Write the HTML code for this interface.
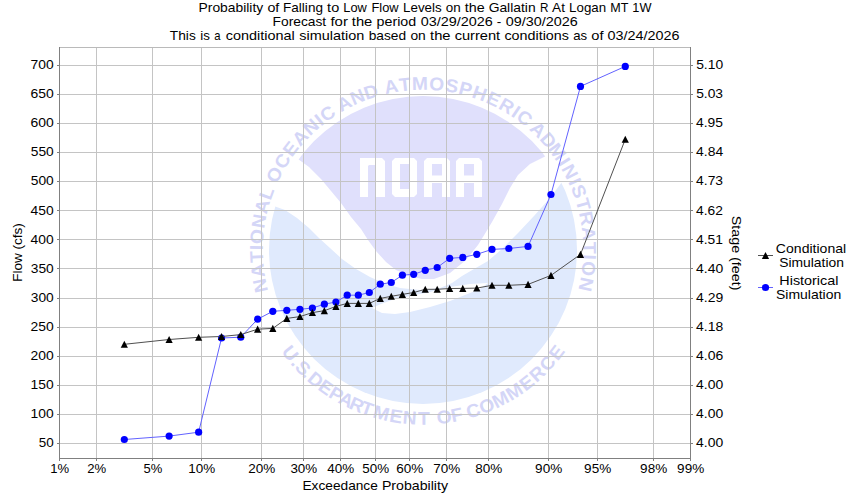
<!DOCTYPE html>
<html><head><meta charset="utf-8"><title>Low Flow Probability</title>
<style>
html,body{margin:0;padding:0;background:#fff;width:850px;height:500px;overflow:hidden}
svg{display:block}
text{font-family:"Liberation Sans",sans-serif}
</style></head><body>
<svg width="850" height="500" viewBox="0 0 850 500">
<rect width="850" height="500" fill="#fff"/>
<defs>
<clipPath id="cc"><circle cx="423" cy="250" r="154"/></clipPath>
</defs>
<g>
<circle cx="423" cy="250" r="154" fill="#e0eafd"/>
<path d="M262,80 L262,205 L271,205 L285,210 L297,218 L309,228 L319,238 L330,248 L342,259 L356,269 L370,277 L386,284 L400,288 L420,290 L440,288 L452,283 L462,276 L474,269 L488,261 L502,249 L510,241 L518,233 L534,216 L550,198 L562,182 L590,170 L590,80 Z" fill="#fff"/>
<path d="M372,308 L381,304 L392,300 L410,296 L430,292 L450,287 L470,284 L488,283 L480,289 L465,295 L450,301 L430,307 L410,312 L395,314 L382,313 Z" fill="#fff"/>
<g clip-path="url(#cc)">
<path d="M290,80 L290,150 L298,159 L309,167 L321,179 L331,191 L341,203 L351,217 L361,229 L368,240 L376,251 L386,262 L396,270 L410,276 L422,279 L434,279 L450,273 L466,260 L478,245 L486,232 L492,222 L502,204 L510,188 L518,175 L530,164 L546,156 L556,148 L556,80 Z" fill="#e0e0fc"/>
</g>
<g fill="#fff">
<path d="M360,158 H382 L385,161 V197 H376 V166 L375,165 H369 L368,166 V197 H360 Z"/>
<path d="M395,158 H414 L417,161 V194 L414,197 H395 L392,194 V161 Z M400,164 V189 H409 V164 Z" fill-rule="evenodd"/>
<path d="M427,158 H447 L450,161 V197 H442 V183 H432 V197 H424 V161 Z M432,164 V175.5 H442 V164 Z" fill-rule="evenodd"/>
<path d="M459,158 H479 L482,161 V197 H474 V183 H464 V197 H456 V161 Z M464,164 V175.5 H474 V164 Z" fill-rule="evenodd"/>
</g>
<g font-family="Liberation Sans">
<text transform="translate(266.48,284.13) rotate(-102.30) scale(1.04,1)" text-anchor="middle" font-weight="bold" font-size="18.5" fill="#d4d6f7">N</text>
<text transform="translate(264.04,269.87) rotate(-97.13) scale(1.04,1)" text-anchor="middle" font-weight="bold" font-size="18.5" fill="#d4d6f7">A</text>
<text transform="translate(262.93,256.57) rotate(-92.35) scale(1.04,1)" text-anchor="middle" font-weight="bold" font-size="18.5" fill="#d4d6f7">T</text>
<text transform="translate(262.82,247.67) rotate(-89.17) scale(1.04,1)" text-anchor="middle" font-weight="bold" font-size="18.5" fill="#d4d6f7">I</text>
<text transform="translate(263.32,237.11) rotate(-85.39) scale(1.04,1)" text-anchor="middle" font-weight="bold" font-size="18.5" fill="#d4d6f7">O</text>
<text transform="translate(265.23,222.22) rotate(-80.01) scale(1.04,1)" text-anchor="middle" font-weight="bold" font-size="18.5" fill="#d4d6f7">N</text>
<text transform="translate(268.38,208.10) rotate(-74.84) scale(1.04,1)" text-anchor="middle" font-weight="bold" font-size="18.5" fill="#d4d6f7">A</text>
<text transform="translate(272.40,195.38) rotate(-70.06) scale(1.04,1)" text-anchor="middle" font-weight="bold" font-size="18.5" fill="#d4d6f7">L</text>
<text transform="translate(280.13,177.52) rotate(-63.10) scale(1.04,1)" text-anchor="middle" font-weight="bold" font-size="18.5" fill="#d4d6f7">O</text>
<text transform="translate(287.68,164.26) rotate(-57.64) scale(1.04,1)" text-anchor="middle" font-weight="bold" font-size="18.5" fill="#d4d6f7">C</text>
<text transform="translate(295.76,152.67) rotate(-52.59) scale(1.04,1)" text-anchor="middle" font-weight="bold" font-size="18.5" fill="#d4d6f7">E</text>
<text transform="translate(304.83,141.84) rotate(-47.53) scale(1.04,1)" text-anchor="middle" font-weight="bold" font-size="18.5" fill="#d4d6f7">A</text>
<text transform="translate(315.23,131.47) rotate(-42.28) scale(1.04,1)" text-anchor="middle" font-weight="bold" font-size="18.5" fill="#d4d6f7">N</text>
<text transform="translate(322.97,124.87) rotate(-38.64) scale(1.04,1)" text-anchor="middle" font-weight="bold" font-size="18.5" fill="#d4d6f7">I</text>
<text transform="translate(331.11,118.77) rotate(-35.00) scale(1.04,1)" text-anchor="middle" font-weight="bold" font-size="18.5" fill="#d4d6f7">C</text>
<text transform="translate(347.05,108.95) rotate(-28.30) scale(1.04,1)" text-anchor="middle" font-weight="bold" font-size="18.5" fill="#d4d6f7">A</text>
<text transform="translate(359.76,102.81) rotate(-23.25) scale(1.04,1)" text-anchor="middle" font-weight="bold" font-size="18.5" fill="#d4d6f7">N</text>
<text transform="translate(372.96,97.81) rotate(-18.20) scale(1.04,1)" text-anchor="middle" font-weight="bold" font-size="18.5" fill="#d4d6f7">D</text>
<text transform="translate(392.37,92.76) rotate(-11.02) scale(1.04,1)" text-anchor="middle" font-weight="bold" font-size="18.5" fill="#d4d6f7">A</text>
<text transform="translate(405.59,90.75) rotate(-6.24) scale(1.04,1)" text-anchor="middle" font-weight="bold" font-size="18.5" fill="#d4d6f7">T</text>
<text transform="translate(420.04,89.83) rotate(-1.06) scale(1.04,1)" text-anchor="middle" font-weight="bold" font-size="18.5" fill="#d4d6f7">M</text>
<text transform="translate(436.29,90.35) rotate(4.76) scale(1.04,1)" text-anchor="middle" font-weight="bold" font-size="18.5" fill="#d4d6f7">O</text>
<text transform="translate(450.76,92.22) rotate(9.98) scale(1.04,1)" text-anchor="middle" font-weight="bold" font-size="18.5" fill="#d4d6f7">S</text>
<text transform="translate(463.92,95.11) rotate(14.80) scale(1.04,1)" text-anchor="middle" font-weight="bold" font-size="18.5" fill="#d4d6f7">P</text>
<text transform="translate(477.62,99.40) rotate(19.94) scale(1.04,1)" text-anchor="middle" font-weight="bold" font-size="18.5" fill="#d4d6f7">H</text>
<text transform="translate(490.88,104.89) rotate(25.07) scale(1.04,1)" text-anchor="middle" font-weight="bold" font-size="18.5" fill="#d4d6f7">E</text>
<text transform="translate(503.60,111.55) rotate(30.21) scale(1.04,1)" text-anchor="middle" font-weight="bold" font-size="18.5" fill="#d4d6f7">R</text>
<text transform="translate(512.36,117.04) rotate(33.90) scale(1.04,1)" text-anchor="middle" font-weight="bold" font-size="18.5" fill="#d4d6f7">I</text>
<text transform="translate(520.75,123.08) rotate(37.60) scale(1.04,1)" text-anchor="middle" font-weight="bold" font-size="18.5" fill="#d4d6f7">C</text>
<text transform="translate(533.68,134.18) rotate(43.70) scale(1.04,1)" text-anchor="middle" font-weight="bold" font-size="18.5" fill="#d4d6f7">A</text>
<text transform="translate(543.54,144.48) rotate(48.80) scale(1.04,1)" text-anchor="middle" font-weight="bold" font-size="18.5" fill="#d4d6f7">D</text>
<text transform="translate(552.28,155.38) rotate(53.80) scale(1.04,1)" text-anchor="middle" font-weight="bold" font-size="18.5" fill="#d4d6f7">M</text>
<text transform="translate(558.97,165.28) rotate(58.07) scale(1.04,1)" text-anchor="middle" font-weight="bold" font-size="18.5" fill="#d4d6f7">I</text>
<text transform="translate(564.34,174.59) rotate(61.92) scale(1.04,1)" text-anchor="middle" font-weight="bold" font-size="18.5" fill="#d4d6f7">N</text>
<text transform="translate(569.08,184.24) rotate(65.77) scale(1.04,1)" text-anchor="middle" font-weight="bold" font-size="18.5" fill="#d4d6f7">I</text>
<text transform="translate(572.96,193.63) rotate(69.40) scale(1.04,1)" text-anchor="middle" font-weight="bold" font-size="18.5" fill="#d4d6f7">S</text>
<text transform="translate(577.07,206.12) rotate(74.10) scale(1.04,1)" text-anchor="middle" font-weight="bold" font-size="18.5" fill="#d4d6f7">T</text>
<text transform="translate(580.26,219.45) rotate(79.01) scale(1.04,1)" text-anchor="middle" font-weight="bold" font-size="18.5" fill="#d4d6f7">R</text>
<text transform="translate(582.41,234.15) rotate(84.32) scale(1.04,1)" text-anchor="middle" font-weight="bold" font-size="18.5" fill="#d4d6f7">A</text>
<text transform="translate(583.19,247.84) rotate(89.23) scale(1.04,1)" text-anchor="middle" font-weight="bold" font-size="18.5" fill="#d4d6f7">T</text>
<text transform="translate(583.05,256.98) rotate(92.50) scale(1.04,1)" text-anchor="middle" font-weight="bold" font-size="18.5" fill="#d4d6f7">I</text>
<text transform="translate(582.21,267.80) rotate(96.38) scale(1.04,1)" text-anchor="middle" font-weight="bold" font-size="18.5" fill="#d4d6f7">O</text>
<text transform="translate(579.76,283.03) rotate(101.90) scale(1.04,1)" text-anchor="middle" font-weight="bold" font-size="18.5" fill="#d4d6f7">N</text>
<text transform="translate(285.15,357.32) rotate(52.10) scale(1.04,1)" text-anchor="middle" font-weight="bold" font-size="18.5" fill="#d4d6f7">U</text>
<text transform="translate(291.84,365.41) rotate(48.65) scale(1.04,1)" text-anchor="middle" font-weight="bold" font-size="18.5" fill="#d4d6f7">.</text>
<text transform="translate(298.61,372.67) rotate(45.40) scale(1.04,1)" text-anchor="middle" font-weight="bold" font-size="18.5" fill="#d4d6f7">S</text>
<text transform="translate(303.39,377.33) rotate(43.21) scale(1.04,1)" text-anchor="middle" font-weight="bold" font-size="18.5" fill="#d4d6f7">.</text>
<text transform="translate(311.64,384.61) rotate(39.60) scale(1.04,1)" text-anchor="middle" font-weight="bold" font-size="18.5" fill="#d4d6f7">D</text>
<text transform="translate(322.27,392.73) rotate(35.21) scale(1.04,1)" text-anchor="middle" font-weight="bold" font-size="18.5" fill="#d4d6f7">E</text>
<text transform="translate(333.02,399.75) rotate(31.00) scale(1.04,1)" text-anchor="middle" font-weight="bold" font-size="18.5" fill="#d4d6f7">P</text>
<text transform="translate(343.33,405.48) rotate(27.13) scale(1.04,1)" text-anchor="middle" font-weight="bold" font-size="18.5" fill="#d4d6f7">A</text>
<text transform="translate(354.43,410.68) rotate(23.11) scale(1.04,1)" text-anchor="middle" font-weight="bold" font-size="18.5" fill="#d4d6f7">R</text>
<text transform="translate(364.97,414.78) rotate(19.40) scale(1.04,1)" text-anchor="middle" font-weight="bold" font-size="18.5" fill="#d4d6f7">T</text>
<text transform="translate(379.85,419.29) rotate(14.30) scale(1.04,1)" text-anchor="middle" font-weight="bold" font-size="18.5" fill="#d4d6f7">M</text>
<text transform="translate(395.03,422.45) rotate(9.21) scale(1.04,1)" text-anchor="middle" font-weight="bold" font-size="18.5" fill="#d4d6f7">E</text>
<text transform="translate(409.29,424.16) rotate(4.50) scale(1.04,1)" text-anchor="middle" font-weight="bold" font-size="18.5" fill="#d4d6f7">N</text>
<text transform="translate(423.91,424.70) rotate(-0.30) scale(1.04,1)" text-anchor="middle" font-weight="bold" font-size="18.5" fill="#d4d6f7">T</text>
<text transform="translate(444.90,423.32) rotate(-7.20) scale(1.04,1)" text-anchor="middle" font-weight="bold" font-size="18.5" fill="#d4d6f7">O</text>
<text transform="translate(457.90,421.18) rotate(-11.52) scale(1.04,1)" text-anchor="middle" font-weight="bold" font-size="18.5" fill="#d4d6f7">F</text>
<text transform="translate(475.24,416.71) rotate(-17.40) scale(1.04,1)" text-anchor="middle" font-weight="bold" font-size="18.5" fill="#d4d6f7">C</text>
<text transform="translate(489.11,411.71) rotate(-22.24) scale(1.04,1)" text-anchor="middle" font-weight="bold" font-size="18.5" fill="#d4d6f7">O</text>
<text transform="translate(503.48,405.06) rotate(-27.43) scale(1.04,1)" text-anchor="middle" font-weight="bold" font-size="18.5" fill="#d4d6f7">M</text>
<text transform="translate(517.64,396.85) rotate(-32.80) scale(1.04,1)" text-anchor="middle" font-weight="bold" font-size="18.5" fill="#d4d6f7">M</text>
<text transform="translate(530.47,387.73) rotate(-37.96) scale(1.04,1)" text-anchor="middle" font-weight="bold" font-size="18.5" fill="#d4d6f7">E</text>
<text transform="translate(541.58,378.29) rotate(-42.75) scale(1.04,1)" text-anchor="middle" font-weight="bold" font-size="18.5" fill="#d4d6f7">R</text>
<text transform="translate(552.25,367.53) rotate(-47.72) scale(1.04,1)" text-anchor="middle" font-weight="bold" font-size="18.5" fill="#d4d6f7">C</text>
<text transform="translate(561.60,356.35) rotate(-52.50) scale(1.04,1)" text-anchor="middle" font-weight="bold" font-size="18.5" fill="#d4d6f7">E</text>
</g>
</g>
</g>
<g shape-rendering="crispEdges" stroke-width="1" fill="none">
<line x1="96.5" y1="47" x2="96.5" y2="458" stroke="#c4c4c4"/>
<line x1="152.5" y1="47" x2="152.5" y2="458" stroke="#c4c4c4"/>
<line x1="201.5" y1="47" x2="201.5" y2="458" stroke="#c4c4c4"/>
<line x1="261.5" y1="47" x2="261.5" y2="458" stroke="#c4c4c4"/>
<line x1="303.5" y1="47" x2="303.5" y2="458" stroke="#c4c4c4"/>
<line x1="340.5" y1="47" x2="340.5" y2="458" stroke="#c4c4c4"/>
<line x1="375.5" y1="47" x2="375.5" y2="458" stroke="#c4c4c4"/>
<line x1="409.5" y1="47" x2="409.5" y2="458" stroke="#c4c4c4"/>
<line x1="446.5" y1="47" x2="446.5" y2="458" stroke="#c4c4c4"/>
<line x1="488.5" y1="47" x2="488.5" y2="458" stroke="#c4c4c4"/>
<line x1="548.5" y1="47" x2="548.5" y2="458" stroke="#c4c4c4"/>
<line x1="597.5" y1="47" x2="597.5" y2="458" stroke="#c4c4c4"/>
<line x1="653.5" y1="47" x2="653.5" y2="458" stroke="#c4c4c4"/>
<line x1="59" y1="65.5" x2="690" y2="65.5" stroke="#c4c4c4"/>
<line x1="59" y1="94.5" x2="690" y2="94.5" stroke="#c4c4c4"/>
<line x1="59" y1="123.5" x2="690" y2="123.5" stroke="#c4c4c4"/>
<line x1="59" y1="152.5" x2="690" y2="152.5" stroke="#c4c4c4"/>
<line x1="59" y1="181.5" x2="690" y2="181.5" stroke="#c4c4c4"/>
<line x1="59" y1="210.5" x2="690" y2="210.5" stroke="#c4c4c4"/>
<line x1="59" y1="239.5" x2="690" y2="239.5" stroke="#c4c4c4"/>
<line x1="59" y1="268.5" x2="690" y2="268.5" stroke="#c4c4c4"/>
<line x1="59" y1="298.5" x2="690" y2="298.5" stroke="#c4c4c4"/>
<line x1="59" y1="327.5" x2="690" y2="327.5" stroke="#c4c4c4"/>
<line x1="59" y1="356.5" x2="690" y2="356.5" stroke="#c4c4c4"/>
<line x1="59" y1="385.5" x2="690" y2="385.5" stroke="#c4c4c4"/>
<line x1="59" y1="414.5" x2="690" y2="414.5" stroke="#c4c4c4"/>
<line x1="59" y1="443.5" x2="690" y2="443.5" stroke="#c4c4c4"/>
<line x1="59" y1="47.5" x2="691" y2="47.5" stroke="#bababa"/>
<line x1="59.5" y1="47" x2="59.5" y2="459" stroke="#808080"/>
<line x1="690.5" y1="47" x2="690.5" y2="459" stroke="#808080"/>
<line x1="59" y1="458.5" x2="691" y2="458.5" stroke="#808080"/>
<line x1="57" y1="65.5" x2="59" y2="65.5" stroke="#808080"/>
<line x1="691" y1="65.5" x2="693" y2="65.5" stroke="#808080"/>
<line x1="57" y1="94.5" x2="59" y2="94.5" stroke="#808080"/>
<line x1="691" y1="94.5" x2="693" y2="94.5" stroke="#808080"/>
<line x1="57" y1="123.5" x2="59" y2="123.5" stroke="#808080"/>
<line x1="691" y1="123.5" x2="693" y2="123.5" stroke="#808080"/>
<line x1="57" y1="152.5" x2="59" y2="152.5" stroke="#808080"/>
<line x1="691" y1="152.5" x2="693" y2="152.5" stroke="#808080"/>
<line x1="57" y1="181.5" x2="59" y2="181.5" stroke="#808080"/>
<line x1="691" y1="181.5" x2="693" y2="181.5" stroke="#808080"/>
<line x1="57" y1="210.5" x2="59" y2="210.5" stroke="#808080"/>
<line x1="691" y1="210.5" x2="693" y2="210.5" stroke="#808080"/>
<line x1="57" y1="239.5" x2="59" y2="239.5" stroke="#808080"/>
<line x1="691" y1="239.5" x2="693" y2="239.5" stroke="#808080"/>
<line x1="57" y1="268.5" x2="59" y2="268.5" stroke="#808080"/>
<line x1="691" y1="268.5" x2="693" y2="268.5" stroke="#808080"/>
<line x1="57" y1="298.5" x2="59" y2="298.5" stroke="#808080"/>
<line x1="691" y1="298.5" x2="693" y2="298.5" stroke="#808080"/>
<line x1="57" y1="327.5" x2="59" y2="327.5" stroke="#808080"/>
<line x1="691" y1="327.5" x2="693" y2="327.5" stroke="#808080"/>
<line x1="57" y1="356.5" x2="59" y2="356.5" stroke="#808080"/>
<line x1="691" y1="356.5" x2="693" y2="356.5" stroke="#808080"/>
<line x1="57" y1="385.5" x2="59" y2="385.5" stroke="#808080"/>
<line x1="691" y1="385.5" x2="693" y2="385.5" stroke="#808080"/>
<line x1="57" y1="414.5" x2="59" y2="414.5" stroke="#808080"/>
<line x1="691" y1="414.5" x2="693" y2="414.5" stroke="#808080"/>
<line x1="57" y1="443.5" x2="59" y2="443.5" stroke="#808080"/>
<line x1="691" y1="443.5" x2="693" y2="443.5" stroke="#808080"/>
<line x1="59.5" y1="459" x2="59.5" y2="461" stroke="#808080"/>
<line x1="96.5" y1="459" x2="96.5" y2="461" stroke="#808080"/>
<line x1="152.5" y1="459" x2="152.5" y2="461" stroke="#808080"/>
<line x1="201.5" y1="459" x2="201.5" y2="461" stroke="#808080"/>
<line x1="261.5" y1="459" x2="261.5" y2="461" stroke="#808080"/>
<line x1="303.5" y1="459" x2="303.5" y2="461" stroke="#808080"/>
<line x1="340.5" y1="459" x2="340.5" y2="461" stroke="#808080"/>
<line x1="375.5" y1="459" x2="375.5" y2="461" stroke="#808080"/>
<line x1="409.5" y1="459" x2="409.5" y2="461" stroke="#808080"/>
<line x1="446.5" y1="459" x2="446.5" y2="461" stroke="#808080"/>
<line x1="488.5" y1="459" x2="488.5" y2="461" stroke="#808080"/>
<line x1="548.5" y1="459" x2="548.5" y2="461" stroke="#808080"/>
<line x1="597.5" y1="459" x2="597.5" y2="461" stroke="#808080"/>
<line x1="653.5" y1="459" x2="653.5" y2="461" stroke="#808080"/>
<line x1="690.5" y1="459" x2="690.5" y2="461" stroke="#808080"/>
</g>
<polyline fill="none" stroke="#6262ff" stroke-width="1" points="124.32,439.5 169.12,436.1 198.63,432.2 221.55,338 240.77,337.2 257.61,319.2 272.81,311.3 286.82,310.3 299.94,309.3 312.40,308 324.35,304.2 335.93,302 347.22,295.2 358.32,295.2 369.32,292.5 380.28,284.2 391.28,282.5 402.38,275.2 413.67,274.3 425.25,270.3 437.20,267.5 449.66,258.3 462.78,257.4 476.79,254.3 491.99,249.4 508.83,248.5 528.05,246.4 550.97,194.5 580.48,86.4 625.28,66.4"/>
<circle cx="124.32" cy="439.5" r="3.6" fill="#0000ff"/>
<circle cx="169.12" cy="436.1" r="3.6" fill="#0000ff"/>
<circle cx="198.63" cy="432.2" r="3.6" fill="#0000ff"/>
<circle cx="221.55" cy="338" r="3.6" fill="#0000ff"/>
<circle cx="240.77" cy="337.2" r="3.6" fill="#0000ff"/>
<circle cx="257.61" cy="319.2" r="3.6" fill="#0000ff"/>
<circle cx="272.81" cy="311.3" r="3.6" fill="#0000ff"/>
<circle cx="286.82" cy="310.3" r="3.6" fill="#0000ff"/>
<circle cx="299.94" cy="309.3" r="3.6" fill="#0000ff"/>
<circle cx="312.40" cy="308" r="3.6" fill="#0000ff"/>
<circle cx="324.35" cy="304.2" r="3.6" fill="#0000ff"/>
<circle cx="335.93" cy="302" r="3.6" fill="#0000ff"/>
<circle cx="347.22" cy="295.2" r="3.6" fill="#0000ff"/>
<circle cx="358.32" cy="295.2" r="3.6" fill="#0000ff"/>
<circle cx="369.32" cy="292.5" r="3.6" fill="#0000ff"/>
<circle cx="380.28" cy="284.2" r="3.6" fill="#0000ff"/>
<circle cx="391.28" cy="282.5" r="3.6" fill="#0000ff"/>
<circle cx="402.38" cy="275.2" r="3.6" fill="#0000ff"/>
<circle cx="413.67" cy="274.3" r="3.6" fill="#0000ff"/>
<circle cx="425.25" cy="270.3" r="3.6" fill="#0000ff"/>
<circle cx="437.20" cy="267.5" r="3.6" fill="#0000ff"/>
<circle cx="449.66" cy="258.3" r="3.6" fill="#0000ff"/>
<circle cx="462.78" cy="257.4" r="3.6" fill="#0000ff"/>
<circle cx="476.79" cy="254.3" r="3.6" fill="#0000ff"/>
<circle cx="491.99" cy="249.4" r="3.6" fill="#0000ff"/>
<circle cx="508.83" cy="248.5" r="3.6" fill="#0000ff"/>
<circle cx="528.05" cy="246.4" r="3.6" fill="#0000ff"/>
<circle cx="550.97" cy="194.5" r="3.6" fill="#0000ff"/>
<circle cx="580.48" cy="86.4" r="3.6" fill="#0000ff"/>
<circle cx="625.28" cy="66.4" r="3.6" fill="#0000ff"/>
<polyline fill="none" stroke="#505050" stroke-width="1" points="124.32,344.3 169.12,339.5 198.63,337.3 221.55,336.5 240.77,334.6 257.61,329.2 272.81,328.4 286.82,318.4 299.94,316.6 312.40,312.6 324.35,310.7 335.93,306.4 347.22,303.4 358.32,303.4 369.32,303.4 380.28,298.4 391.28,296.3 402.38,294.4 413.67,292.5 425.25,289.3 437.20,289.3 449.66,288.5 462.78,288.4 476.79,288.1 491.99,285.3 508.83,285.3 528.05,284.4 550.97,275.4 580.48,254.4 625.28,139.3"/>
<path d="M124.32,340.70 L127.92,347.80 L120.72,347.80 Z" fill="#000"/>
<path d="M169.12,335.90 L172.72,343.00 L165.52,343.00 Z" fill="#000"/>
<path d="M198.63,333.70 L202.23,340.80 L195.03,340.80 Z" fill="#000"/>
<path d="M221.55,332.90 L225.15,340.00 L217.95,340.00 Z" fill="#000"/>
<path d="M240.77,331.00 L244.37,338.10 L237.17,338.10 Z" fill="#000"/>
<path d="M257.61,325.60 L261.21,332.70 L254.01,332.70 Z" fill="#000"/>
<path d="M272.81,324.80 L276.41,331.90 L269.21,331.90 Z" fill="#000"/>
<path d="M286.82,314.80 L290.42,321.90 L283.22,321.90 Z" fill="#000"/>
<path d="M299.94,313.00 L303.54,320.10 L296.34,320.10 Z" fill="#000"/>
<path d="M312.40,309.00 L316.00,316.10 L308.80,316.10 Z" fill="#000"/>
<path d="M324.35,307.10 L327.95,314.20 L320.75,314.20 Z" fill="#000"/>
<path d="M335.93,302.80 L339.53,309.90 L332.33,309.90 Z" fill="#000"/>
<path d="M347.22,299.80 L350.82,306.90 L343.62,306.90 Z" fill="#000"/>
<path d="M358.32,299.80 L361.92,306.90 L354.72,306.90 Z" fill="#000"/>
<path d="M369.32,299.80 L372.92,306.90 L365.72,306.90 Z" fill="#000"/>
<path d="M380.28,294.80 L383.88,301.90 L376.68,301.90 Z" fill="#000"/>
<path d="M391.28,292.70 L394.88,299.80 L387.68,299.80 Z" fill="#000"/>
<path d="M402.38,290.80 L405.98,297.90 L398.78,297.90 Z" fill="#000"/>
<path d="M413.67,288.90 L417.27,296.00 L410.07,296.00 Z" fill="#000"/>
<path d="M425.25,285.70 L428.85,292.80 L421.65,292.80 Z" fill="#000"/>
<path d="M437.20,285.70 L440.80,292.80 L433.60,292.80 Z" fill="#000"/>
<path d="M449.66,284.90 L453.26,292.00 L446.06,292.00 Z" fill="#000"/>
<path d="M462.78,284.80 L466.38,291.90 L459.18,291.90 Z" fill="#000"/>
<path d="M476.79,284.50 L480.39,291.60 L473.19,291.60 Z" fill="#000"/>
<path d="M491.99,281.70 L495.59,288.80 L488.39,288.80 Z" fill="#000"/>
<path d="M508.83,281.70 L512.43,288.80 L505.23,288.80 Z" fill="#000"/>
<path d="M528.05,280.80 L531.65,287.90 L524.45,287.90 Z" fill="#000"/>
<path d="M550.97,271.80 L554.57,278.90 L547.37,278.90 Z" fill="#000"/>
<path d="M580.48,250.80 L584.08,257.90 L576.88,257.90 Z" fill="#000"/>
<path d="M625.28,135.70 L628.88,142.80 L621.68,142.80 Z" fill="#000"/>
<line x1="758" y1="255.5" x2="773" y2="255.5" stroke="#505050" stroke-width="1"/>
<path d="M765.5,251.90 L769.1,259.0 L761.9,259.0 Z" fill="#000"/>
<line x1="758" y1="287.5" x2="773" y2="287.5" stroke="#6262ff" stroke-width="1"/>
<circle cx="765.5" cy="287.5" r="3.6" fill="#0000ff"/>
<g font-family="Liberation Sans">
<text x="198.57" y="12.00" font-size="12.7" textLength="64.59" lengthAdjust="spacingAndGlyphs" fill="#000">Probability</text>
<text x="267.44" y="12.00" font-size="12.7" textLength="11.90" lengthAdjust="spacingAndGlyphs" fill="#000">of</text>
<text x="283.10" y="12.00" font-size="12.7" textLength="39.82" lengthAdjust="spacingAndGlyphs" fill="#000">Falling</text>
<text x="327.14" y="12.00" font-size="12.7" textLength="12.08" lengthAdjust="spacingAndGlyphs" fill="#000">to</text>
<text x="343.31" y="12.00" font-size="12.7" textLength="23.56" lengthAdjust="spacingAndGlyphs" fill="#000">Low</text>
<text x="371.43" y="12.00" font-size="12.7" textLength="27.17" lengthAdjust="spacingAndGlyphs" fill="#000">Flow</text>
<text x="403.12" y="12.00" font-size="12.7" textLength="38.57" lengthAdjust="spacingAndGlyphs" fill="#000">Levels</text>
<text x="445.79" y="12.00" font-size="12.7" textLength="14.92" lengthAdjust="spacingAndGlyphs" fill="#000">on</text>
<text x="464.87" y="12.00" font-size="12.7" textLength="19.90" lengthAdjust="spacingAndGlyphs" fill="#000">the</text>
<text x="488.65" y="12.00" font-size="12.7" textLength="46.97" lengthAdjust="spacingAndGlyphs" fill="#000">Gallatin</text>
<text x="539.88" y="12.00" font-size="12.7" textLength="8.43" lengthAdjust="spacingAndGlyphs" fill="#000">R</text>
<text x="552.07" y="12.00" font-size="12.7" textLength="12.87" lengthAdjust="spacingAndGlyphs" fill="#000">At</text>
<text x="569.12" y="12.00" font-size="12.7" textLength="36.94" lengthAdjust="spacingAndGlyphs" fill="#000">Logan</text>
<text x="610.28" y="12.00" font-size="12.7" textLength="18.14" lengthAdjust="spacingAndGlyphs" fill="#000">MT</text>
<text x="632.34" y="12.00" font-size="12.7" textLength="19.10" lengthAdjust="spacingAndGlyphs" fill="#000">1W</text>
<text x="272.57" y="26.00" font-size="12.7" textLength="53.64" lengthAdjust="spacingAndGlyphs" fill="#000">Forecast</text>
<text x="330.48" y="26.00" font-size="12.7" textLength="17.46" lengthAdjust="spacingAndGlyphs" fill="#000">for</text>
<text x="351.81" y="26.00" font-size="12.7" textLength="20.51" lengthAdjust="spacingAndGlyphs" fill="#000">the</text>
<text x="376.55" y="26.00" font-size="12.7" textLength="39.61" lengthAdjust="spacingAndGlyphs" fill="#000">period</text>
<text x="420.66" y="26.00" font-size="12.7" textLength="72.06" lengthAdjust="spacingAndGlyphs" fill="#000">03/29/2026</text>
<text x="496.88" y="26.00" font-size="12.7" textLength="4.51" lengthAdjust="spacingAndGlyphs" fill="#000">-</text>
<text x="505.67" y="26.00" font-size="12.7" textLength="72.06" lengthAdjust="spacingAndGlyphs" fill="#000">09/30/2026</text>
<text x="169.89" y="40.00" font-size="12.7" textLength="25.90" lengthAdjust="spacingAndGlyphs" fill="#000">This</text>
<text x="200.20" y="40.00" font-size="12.7" textLength="9.61" lengthAdjust="spacingAndGlyphs" fill="#000">is</text>
<text x="214.21" y="40.00" font-size="12.7" textLength="6.28" lengthAdjust="spacingAndGlyphs" fill="#000">a</text>
<text x="225.71" y="40.00" font-size="12.7" textLength="68.99" lengthAdjust="spacingAndGlyphs" fill="#000">conditional</text>
<text x="299.19" y="40.00" font-size="12.7" textLength="65.09" lengthAdjust="spacingAndGlyphs" fill="#000">simulation</text>
<text x="368.66" y="40.00" font-size="12.7" textLength="37.41" lengthAdjust="spacingAndGlyphs" fill="#000">based</text>
<text x="410.43" y="40.00" font-size="12.7" textLength="15.37" lengthAdjust="spacingAndGlyphs" fill="#000">on</text>
<text x="430.08" y="40.00" font-size="12.7" textLength="20.49" lengthAdjust="spacingAndGlyphs" fill="#000">the</text>
<text x="454.65" y="40.00" font-size="12.7" textLength="45.56" lengthAdjust="spacingAndGlyphs" fill="#000">current</text>
<text x="504.48" y="40.00" font-size="12.7" textLength="64.46" lengthAdjust="spacingAndGlyphs" fill="#000">conditions</text>
<text x="573.22" y="40.00" font-size="12.7" textLength="13.91" lengthAdjust="spacingAndGlyphs" fill="#000">as</text>
<text x="591.34" y="40.00" font-size="12.7" textLength="12.25" lengthAdjust="spacingAndGlyphs" fill="#000">of</text>
<text x="607.64" y="40.00" font-size="12.7" textLength="71.99" lengthAdjust="spacingAndGlyphs" fill="#000">03/24/2026</text>
<text x="30.64" y="69.00" font-size="12.7" textLength="23.10" lengthAdjust="spacingAndGlyphs" fill="#000">700</text>
<text x="30.49" y="98.10" font-size="12.7" textLength="23.25" lengthAdjust="spacingAndGlyphs" fill="#000">650</text>
<text x="30.49" y="127.20" font-size="12.7" textLength="23.25" lengthAdjust="spacingAndGlyphs" fill="#000">600</text>
<text x="30.74" y="156.30" font-size="12.7" textLength="23.00" lengthAdjust="spacingAndGlyphs" fill="#000">550</text>
<text x="30.74" y="185.40" font-size="12.7" textLength="23.00" lengthAdjust="spacingAndGlyphs" fill="#000">500</text>
<text x="30.63" y="214.50" font-size="12.7" textLength="23.11" lengthAdjust="spacingAndGlyphs" fill="#000">450</text>
<text x="30.63" y="243.60" font-size="12.7" textLength="23.11" lengthAdjust="spacingAndGlyphs" fill="#000">400</text>
<text x="30.75" y="272.70" font-size="12.7" textLength="22.99" lengthAdjust="spacingAndGlyphs" fill="#000">350</text>
<text x="30.75" y="301.80" font-size="12.7" textLength="22.99" lengthAdjust="spacingAndGlyphs" fill="#000">300</text>
<text x="30.54" y="330.90" font-size="12.7" textLength="23.20" lengthAdjust="spacingAndGlyphs" fill="#000">250</text>
<text x="30.54" y="360.00" font-size="12.7" textLength="23.20" lengthAdjust="spacingAndGlyphs" fill="#000">200</text>
<text x="30.63" y="389.10" font-size="12.7" textLength="23.12" lengthAdjust="spacingAndGlyphs" fill="#000">150</text>
<text x="30.63" y="418.20" font-size="12.7" textLength="23.12" lengthAdjust="spacingAndGlyphs" fill="#000">100</text>
<text x="38.75" y="447.30" font-size="12.7" textLength="14.98" lengthAdjust="spacingAndGlyphs" fill="#000">50</text>
<text x="696.17" y="69.00" font-size="12.7" textLength="27.01" lengthAdjust="spacingAndGlyphs" fill="#000">5.10</text>
<text x="696.17" y="98.10" font-size="12.7" textLength="26.91" lengthAdjust="spacingAndGlyphs" fill="#000">5.03</text>
<text x="696.07" y="127.20" font-size="12.7" textLength="26.90" lengthAdjust="spacingAndGlyphs" fill="#000">4.95</text>
<text x="696.07" y="156.30" font-size="12.7" textLength="27.10" lengthAdjust="spacingAndGlyphs" fill="#000">4.84</text>
<text x="696.07" y="185.40" font-size="12.7" textLength="27.02" lengthAdjust="spacingAndGlyphs" fill="#000">4.73</text>
<text x="696.07" y="214.50" font-size="12.7" textLength="26.86" lengthAdjust="spacingAndGlyphs" fill="#000">4.62</text>
<text x="696.07" y="243.60" font-size="12.7" textLength="26.93" lengthAdjust="spacingAndGlyphs" fill="#000">4.51</text>
<text x="696.07" y="272.70" font-size="12.7" textLength="27.12" lengthAdjust="spacingAndGlyphs" fill="#000">4.40</text>
<text x="696.07" y="301.80" font-size="12.7" textLength="27.19" lengthAdjust="spacingAndGlyphs" fill="#000">4.29</text>
<text x="696.07" y="330.90" font-size="12.7" textLength="27.16" lengthAdjust="spacingAndGlyphs" fill="#000">4.18</text>
<text x="696.06" y="360.00" font-size="12.7" textLength="27.23" lengthAdjust="spacingAndGlyphs" fill="#000">4.06</text>
<text x="696.07" y="389.10" font-size="12.7" textLength="27.12" lengthAdjust="spacingAndGlyphs" fill="#000">4.00</text>
<text x="696.07" y="418.20" font-size="12.7" textLength="27.12" lengthAdjust="spacingAndGlyphs" fill="#000">4.00</text>
<text x="696.07" y="447.30" font-size="12.7" textLength="27.12" lengthAdjust="spacingAndGlyphs" fill="#000">4.00</text>
<text x="50.32" y="473.00" font-size="12.7" textLength="18.88" lengthAdjust="spacingAndGlyphs" fill="#000">1%</text>
<text x="87.22" y="473.00" font-size="12.7" textLength="18.99" lengthAdjust="spacingAndGlyphs" fill="#000">2%</text>
<text x="143.41" y="473.00" font-size="12.7" textLength="18.80" lengthAdjust="spacingAndGlyphs" fill="#000">5%</text>
<text x="188.29" y="473.00" font-size="12.7" textLength="26.93" lengthAdjust="spacingAndGlyphs" fill="#000">10%</text>
<text x="248.20" y="473.00" font-size="12.7" textLength="27.02" lengthAdjust="spacingAndGlyphs" fill="#000">20%</text>
<text x="290.40" y="473.00" font-size="12.7" textLength="26.81" lengthAdjust="spacingAndGlyphs" fill="#000">30%</text>
<text x="327.28" y="473.00" font-size="12.7" textLength="26.94" lengthAdjust="spacingAndGlyphs" fill="#000">40%</text>
<text x="362.39" y="473.00" font-size="12.7" textLength="26.83" lengthAdjust="spacingAndGlyphs" fill="#000">50%</text>
<text x="396.15" y="473.00" font-size="12.7" textLength="27.07" lengthAdjust="spacingAndGlyphs" fill="#000">60%</text>
<text x="433.29" y="473.00" font-size="12.7" textLength="26.93" lengthAdjust="spacingAndGlyphs" fill="#000">70%</text>
<text x="475.23" y="473.00" font-size="12.7" textLength="26.99" lengthAdjust="spacingAndGlyphs" fill="#000">80%</text>
<text x="535.12" y="473.00" font-size="12.7" textLength="27.10" lengthAdjust="spacingAndGlyphs" fill="#000">90%</text>
<text x="584.12" y="473.00" font-size="12.7" textLength="27.10" lengthAdjust="spacingAndGlyphs" fill="#000">95%</text>
<text x="640.12" y="473.00" font-size="12.7" textLength="27.10" lengthAdjust="spacingAndGlyphs" fill="#000">98%</text>
<text x="677.12" y="473.00" font-size="12.7" textLength="27.10" lengthAdjust="spacingAndGlyphs" fill="#000">99%</text>
<text x="302.48" y="490.00" font-size="12.7" textLength="75.38" lengthAdjust="spacingAndGlyphs" fill="#000">Exceedance</text>
<text x="381.95" y="490.00" font-size="12.7" textLength="66.08" lengthAdjust="spacingAndGlyphs" fill="#000">Probability</text>
<text transform="translate(22.2,281.81) rotate(-90)" x="0" y="0" font-size="12.7" textLength="58.65" lengthAdjust="spacingAndGlyphs">Flow (cfs)</text>
<text transform="translate(731.8,215.75) rotate(90)" x="0" y="0" font-size="12.7" textLength="74.74" lengthAdjust="spacingAndGlyphs">Stage (feet)</text>
<text x="775.89" y="253.20" font-size="12.7" textLength="70.25" lengthAdjust="spacingAndGlyphs" fill="#000">Conditional</text>
<text x="779.17" y="266.50" font-size="12.7" textLength="64.83" lengthAdjust="spacingAndGlyphs" fill="#000">Simulation</text>
<text x="779.32" y="284.70" font-size="12.7" textLength="59.14" lengthAdjust="spacingAndGlyphs" fill="#000">Historical</text>
<text x="775.97" y="298.70" font-size="12.7" textLength="65.24" lengthAdjust="spacingAndGlyphs" fill="#000">Simulation</text>
</g>
</svg>
</body></html>
